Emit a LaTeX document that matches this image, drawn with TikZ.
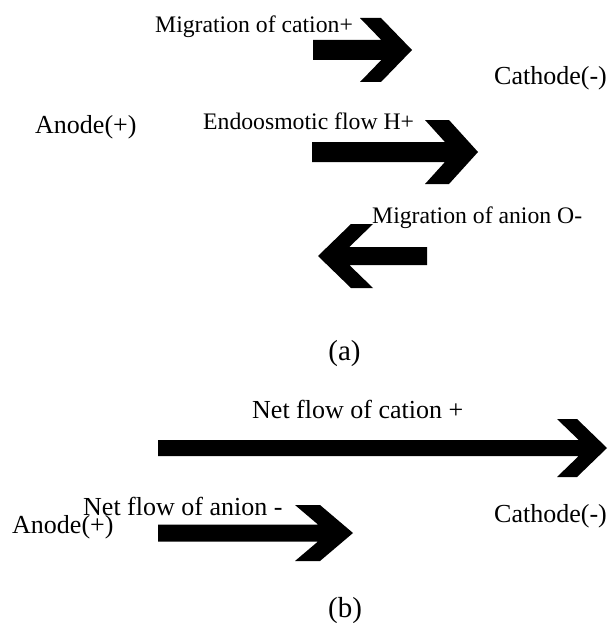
\documentclass[tikz,border=0pt]{standalone}
\usepackage{fontspec}
\setmainfont{Liberation Serif}
\newcommand{\blockarrow}[8]{%
  % #1 tail x, #2 centre y, #3 tip x, #4 half shaft, #5 half head,
  % #6 head length, #7 arm width, #8 direction (1 right, -1 left)
  \fill[arrowfill]
    (#1,{#2-#4})
    -- ({#3-(#8)*(#6-(#5-#4)/#5*(#6-#7))},{#2-#4})
    -- ({#3-(#8)*#6},{#2-#5})
    -- ({#3-(#8)*(#6-#7)},{#2-#5})
    -- (#3,#2)
    -- ({#3-(#8)*(#6-#7)},{#2+#5})
    -- ({#3-(#8)*#6},{#2+#5})
    -- ({#3-(#8)*(#6-(#5-#4)/#5*(#6-#7))},{#2+#4})
    -- (#1,{#2+#4}) -- cycle;}
\begin{document}
\begin{tikzpicture}[x=1pt,y=-1pt,
  arrowfill/.style={fill=black},
  lab/.style={inner sep=0pt,anchor=base west,font=\fontsize{23.7}{28}\selectfont},
  big/.style={inner sep=0pt,anchor=base west,font=\fontsize{26}{30}\selectfont},
  bigr/.style={inner sep=0pt,anchor=base east,font=\fontsize{26}{30}\selectfont},
  caplab/.style={inner sep=0pt,anchor=base,font=\fontsize{29}{33}\selectfont}]
\useasboundingbox[fill=white] (0,0) rectangle (609,623);
% (a)
\node[lab] (mcat) at (155,33) {Migration of cation+};
\node[bigr] (cathA) at (607,85) {Cathode(-)};
\node[big] (anoA) at (35,133) {Anode(+)};
\node[lab] (endo) at (203,129) {Endoosmotic flow H+};
\node[lab] (man) at (372,223) {Migration of anion O-};
\node[caplab] (la) at (344.5,360) {(a)};
\blockarrow{313}{50}{412}{10}{32}{52}{21}{1}
\blockarrow{312}{152}{478}{10}{32}{53}{24}{1}
\blockarrow{427}{256}{318}{9}{32}{55}{22}{-1}
% (b)
\node[big] (ncat) at (252,418) {Net flow of cation +};
\node[big] (nan) at (83,515) {Net flow of anion -};
\node[big] (anoB) at (12,533) {Anode(+)};
\node[bigr] (cathB) at (607,522) {Cathode(-)};
\node[caplab] (lb) at (345,617) {(b)};
\blockarrow{158}{448}{607}{8}{29}{50}{20}{1}
\blockarrow{158}{533}{353}{8.5}{28}{58}{25}{1}
\end{tikzpicture}
\end{document}
